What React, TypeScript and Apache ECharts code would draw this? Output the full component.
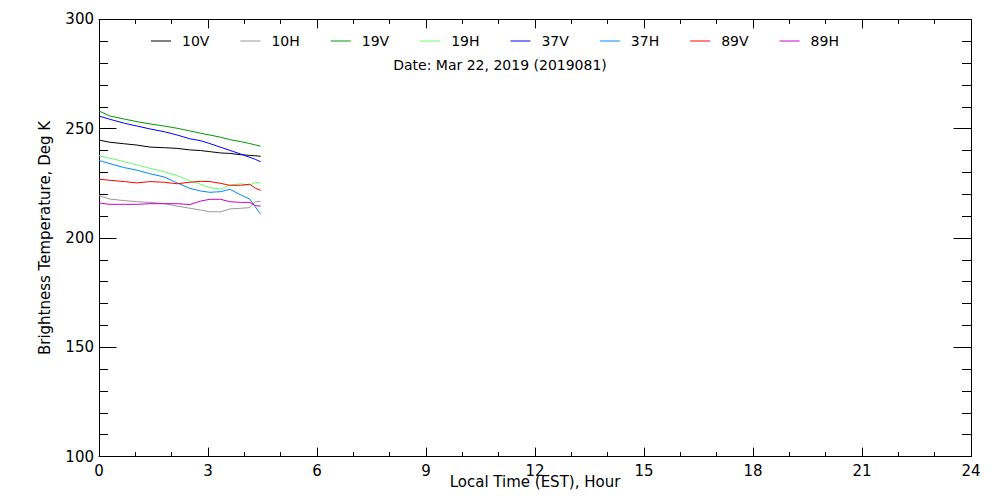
import React, { useEffect, useRef } from "react";
import * as echarts from "echarts";

const hours = [0, 0.3, 0.7, 1.05, 1.4, 1.8, 2.15, 2.5, 2.8, 3.05, 3.35, 3.6, 3.9, 4.15, 4.3, 4.45];

const v10V = [244.8, 243.8, 243.1, 242.5, 241.6, 241.3, 241.0, 240.3, 240.0, 239.5, 238.9, 238.7, 238.1, 237.8, 237.6, 237.4];
const v10H = [219.4, 217.8, 217.1, 216.6, 216.3, 215.7, 214.6, 213.6, 212.8, 212.0, 212.0, 213.3, 213.6, 213.9, 216.6, 216.8];
const v19V = [258.1, 255.8, 254.4, 253.2, 252.2, 251.2, 250.2, 249.0, 247.9, 247.1, 246.1, 245.0, 244.1, 243.2, 242.6, 242.0];
const v19H = [237.7, 236.5, 234.9, 233.4, 231.9, 230.3, 228.5, 226.1, 224.6, 223.0, 222.4, 224.2, 224.8, 224.2, 225.5, 225.2];
const v37V = [255.8, 254.3, 252.5, 251.2, 249.9, 248.6, 247.1, 245.4, 244.5, 243.2, 241.5, 240.1, 238.4, 236.9, 236.0, 234.9];
const v37H = [235.5, 234.0, 232.2, 231.0, 229.4, 227.9, 225.2, 222.7, 221.5, 220.9, 221.2, 222.3, 219.7, 217.8, 214.3, 210.8];
const v89V = [226.9, 226.4, 225.8, 225.2, 225.8, 225.5, 224.8, 225.5, 225.9, 225.8, 225.0, 224.1, 224.1, 224.6, 222.8, 221.8];
const v89H = [216.0, 215.4, 215.4, 215.4, 215.7, 215.7, 215.7, 215.3, 216.9, 217.7, 217.7, 216.6, 216.3, 216.3, 214.8, 214.6];

const seriesNames = ["10V", "10H", "19V", "19H", "37V", "37H", "89V", "89H"];
const seriesValues = [v10V, v10H, v19V, v19H, v37V, v37H, v89V, v89H];
const seriesColors = ["#000000", "#999999", "#009900", "#66ff66", "#0000ff", "#0088ff", "#ff0000", "#cc00cc"];

const dateText = "Date: Mar 22, 2019 (2019081)";
const xTitle = "Local Time (EST), Hour";
const yTitle = "Brightness Temperature, Deg K";

const FONT = "DejaVu Sans";

export default function App() {
  const ref = useRef<HTMLDivElement>(null);
  useEffect(() => {
    if (!ref.current) return;
    const chart = echarts.init(ref.current, undefined, { renderer: "svg" });
    const axisCommon = {
      axisLine: { show: true, onZero: false, lineStyle: { color: "#000", width: 1 } },
      splitLine: { show: false },
    };
    const xAxisBase = {
      type: "value",
      min: 0,
      max: 24,
      interval: 3,
      minorTick: { show: true, splitNumber: 3, length: 4.5, lineStyle: { color: "#000" } },
      axisTick: { show: true, inside: true, length: 9, lineStyle: { color: "#000" } },
      ...axisCommon,
    };
    const yAxisBase = {
      type: "value",
      min: 100,
      max: 300,
      interval: 50,
      minorTick: { show: true, splitNumber: 5, length: 9, lineStyle: { color: "#000" } },
      axisTick: { show: true, inside: true, length: 17.5, lineStyle: { color: "#000" } },
      ...axisCommon,
    };
    chart.setOption({
      animation: false,
      backgroundColor: "#ffffff",
      textStyle: { fontFamily: FONT, color: "#000" },
      title: {
        text: dateText,
        left: "center",
        top: 58,
        padding: 0,
        textStyle: { fontFamily: FONT, fontSize: 14, fontWeight: "normal", color: "#000" },
      },
      legend: {
        left: 151,
        top: 34,
        padding: 0,
        icon: "rect",
        itemWidth: 20,
        itemHeight: 1,
        itemGap: 31,
        data: seriesNames,
        textStyle: { fontFamily: FONT, fontSize: 14, color: "#000", padding: [0, 0, 0, 6] },
      },
      grid: { left: 99, right: 29, top: 19.4, bottom: 43.4, containLabel: false, outerBoundsMode: "none" },
      xAxis: [
        {
          ...xAxisBase,
          position: "bottom",
          name: xTitle,
          nameLocation: "middle",
          nameGap: 18,
          nameMoveOverlap: false,
          nameTextStyle: { fontFamily: FONT, fontSize: 15, color: "#000", lineHeight: 15 },
          axisLabel: { show: true, margin: 7, fontFamily: FONT, fontSize: 15, color: "#000", lineHeight: 15 },
        },
        { ...xAxisBase, position: "top", axisLabel: { show: false } },
      ],
      yAxis: [
        {
          ...yAxisBase,
          position: "left",
          name: yTitle,
          nameLocation: "middle",
          nameGap: 47,
          nameMoveOverlap: false,
          nameTextStyle: { fontFamily: FONT, fontSize: 15, color: "#000" },
          axisLabel: { show: true, margin: 5, fontFamily: FONT, fontSize: 15, color: "#000" },
        },
        { ...yAxisBase, position: "right", axisLabel: { show: false } },
      ],
      series: seriesNames.map((name, i) => ({
        name,
        type: "line",
        xAxisIndex: 0,
        yAxisIndex: 0,
        showSymbol: false,
        symbol: "none",
        color: seriesColors[i],
        lineStyle: { color: seriesColors[i], width: 1 },
        data: hours.map((h, j) => [h, seriesValues[i][j]]),
      })),
    });
    return () => chart.dispose();
  }, []);
  return (
    <div
      ref={ref}
      style={{ position: "fixed", left: 0, top: 0, width: 1000, height: 500, background: "#fff" }}
    />
  );
}
